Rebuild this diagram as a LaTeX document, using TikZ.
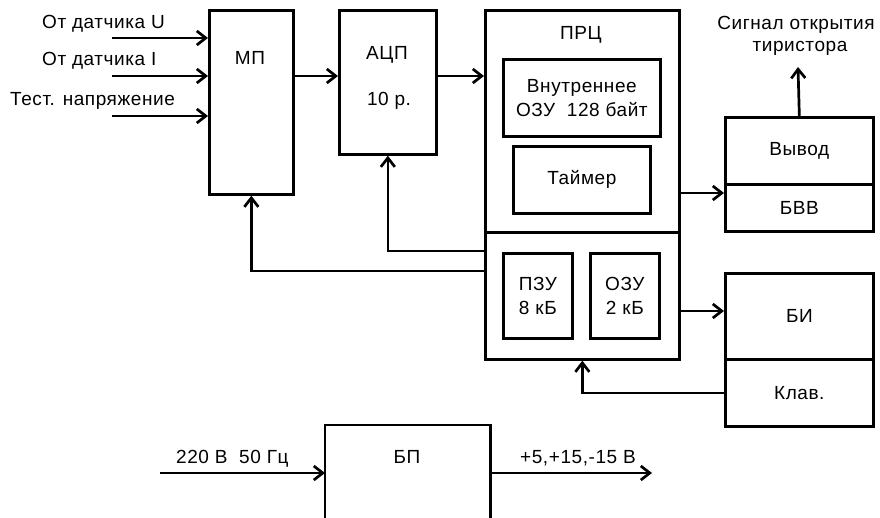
\documentclass[tikz,border=0pt]{standalone}
\usepackage{fontspec}
\setmainfont{Liberation Sans}[LetterSpace=3]
\usetikzlibrary{arrows.meta}
\begin{document}
\begin{tikzpicture}[x=1pt,y=-1pt,
  box/.style={draw, line width=2.7pt, anchor=north west, inner sep=0pt, align=center},
  arr/.style={line width=2.7pt, -{Straight Barb[length=9pt,width=14pt]}},
  ln/.style={line width=2.7pt},
  lbl/.style={inner sep=0pt, anchor=base},
  lblw/.style={inner sep=0pt, anchor=base west},
  every node/.style={font=\fontsize{19}{23.5}\selectfont}]
\clip (0,0) rectangle (880,518);
% boxes
\node[box, minimum width=84pt, minimum height=184pt] (mp) at (208,9) {};
\node[box, minimum width=97pt, minimum height=144pt] (adc) at (338,9) {};
\node[box, minimum width=194pt, minimum height=222pt] (prc) at (484,9) {};
\node[box, minimum width=194pt, minimum height=127pt] (prcb) at (484,231) {};
\node[box, minimum width=157pt, minimum height=77pt] (vnutr) at (502,58) {Внутреннее\\ОЗУ~~128 байт};
\node[box, minimum width=137pt, minimum height=67pt] (taim) at (512,145) {Таймер};
\node[box, minimum width=69pt, minimum height=85pt] (pzu) at (502,252) {ПЗУ\\8 кБ};
\node[box, minimum width=69pt, minimum height=85pt] (ozu) at (589,252) {ОЗУ\\2 кБ};
\node[box, minimum width=148pt, minimum height=67pt] (vyv) at (724,116) {Вывод};
\node[box, minimum width=148pt, minimum height=47pt] (bvv) at (724,183) {БВВ};
\node[box, minimum width=148pt, minimum height=86pt] (bi) at (724,272) {БИ};
\node[box, minimum width=148pt, minimum height=67pt] (klav) at (724,358) {Клав.};
\node[box, draw=none, minimum width=163pt, minimum height=66pt] (bp) at (325,425) {};
\draw[ln] (bp.south west) -- ++(0,40) (bp.south west) -- (bp.north west) -- (bp.north east) -- (bp.south east) -- ++(0,40);
% labels
\node[lbl] (tmp) at (250,65) {МП};
\node[lbl] (tadc) at (387,60) {АЦП};
\node[lbl] (tadc2) at (389,106) {10 р.};
\node[lbl] (tprc) at (581,40) {ПРЦ};
\node[lbl] (tbp) at (407,463) {БП};
\node[lblw] (tu) at (42,29) {От датчика U};
\node[lblw] (ti) at (42,66) {От датчика I};
\node[lblw] (tt) at (10,106) {Тест. напряжение};
\node[lbl] (ts1) at (796,30) {Сигнал открытия};
\node[lbl] (ts2) at (800,52) {тиристора};
\node[lblw] (tin) at (176,463) {220 В~~50 Гц};
\node[lblw] (tout) at (520,463) {+5,+15,-15 В};
% connectors
\coordinate (inU) at (112,38);
\coordinate (inI) at (112,76);
\coordinate (inT) at (112,116);
\draw[arr] (inU) -- (inU -| mp.west);
\draw[arr] (inI) -- (inI -| mp.west);
\draw[arr] (inT) -- (inT -| mp.west);
\draw[arr] (mp.east |- inI) -- (adc.west |- inI);
\draw[arr] (adc.east |- inI) -- (prc.west |- inI);
\coordinate (f1) at (0,251);
\coordinate (f2) at (0,271);
\draw[arr] (prcb.west |- f1) -| (adc.south);
\draw[arr] (prcb.west |- f2) -| (mp.south);
\coordinate (o1) at (0,193);
\coordinate (o2) at (0,311);
\draw[arr] (prc.east |- o1) -- (bvv.west |- o1);
\draw[arr] (prcb.east |- o2) -- (bi.west |- o2);
\draw[arr] (klav.west) -| (prcb.south);
\coordinate (sig) at (798,67);
\draw[arr] (vyv.north) -- (sig);
\coordinate (pin) at (160,473);
\coordinate (pout) at (652,473);
\draw[arr] (pin) -- (pin -| bp.west);
\draw[arr] (pout -| bp.east) -- (pout);
\end{tikzpicture}
\end{document}
